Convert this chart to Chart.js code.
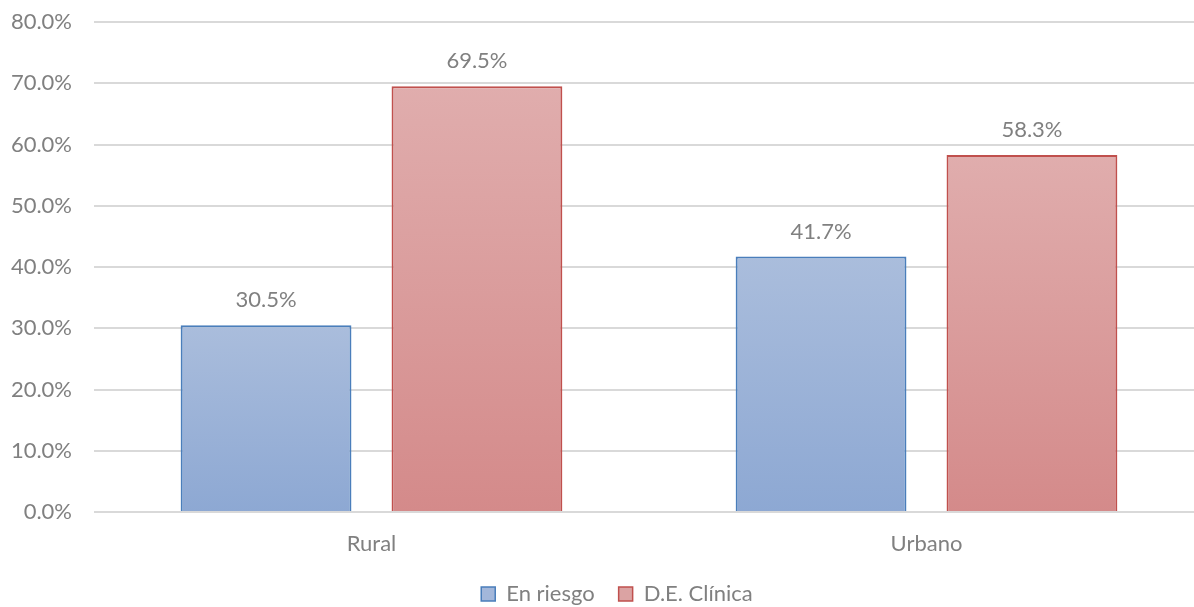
<!DOCTYPE html>
<html>
<head>
<meta charset="utf-8">
<script src="https://cdn.jsdelivr.net/npm/chart.js@4/dist/chart.umd.min.js"></script>
<style>
html,body{margin:0;padding:0;overflow:hidden;background:#fff;width:1194px;height:607px;}
canvas{display:block;}
</style>
</head>
<body>
<canvas id="c" width="1206" height="615"></canvas>
<script>
const categories = ["Rural", "Urbano"];
const seriesNames = ["En riesgo", "D.E. Clínica"];
const enRiesgo = [30.5, 41.7];
const deClinica = [69.5, 58.3];
const yTicks = [0, 10, 20, 30, 40, 50, 60, 70, 80];

const FONT = "Lato, 'Open Sans', sans-serif";
const TEXT = "#808080";

function grad(top, bottom) {
  return function(ctx) {
    const chart = ctx.chart;
    if (!chart.chartArea || ctx.raw === undefined) return bottom;
    const y = chart.scales.y;
    const y0 = y.getPixelForValue(0);
    const y1 = y.getPixelForValue(ctx.raw);
    const g = chart.ctx.createLinearGradient(0, y1, 0, y0);
    g.addColorStop(0, top);
    g.addColorStop(1, bottom);
    return g;
  };
}

const labelPlugin = {
  id: 'valueLabels',
  afterLayout(chart) {
    if (chart.legend) { chart.legend.left += 15; chart.legend.right += 15; }
  },
  afterDatasetsDraw(chart) {
    const ctx = chart.ctx;
    ctx.save();
    ctx.font = "22px " + FONT;
    ctx.fillStyle = TEXT;
    ctx.textAlign = "center";
    ctx.textBaseline = "alphabetic";
    chart.data.datasets.forEach((ds, i) => {
      chart.getDatasetMeta(i).data.forEach((bar, j) => {
        ctx.fillText(ds.data[j].toFixed(1) + "%", bar.x, bar.y - 18);
      });
    });
    ctx.restore();
  }
};

new Chart(document.getElementById("c"), {
  type: "bar",
  data: {
    labels: categories,
    datasets: [
      {
        label: seriesNames[0],
        data: enRiesgo,
        backgroundColor: grad("#aabddc", "#8da8d3"),
        borderColor: "#4a7ebb",
        borderWidth: 2,
        borderSkipped: "bottom",
        categoryPercentage: 0.76,
        barPercentage: 0.81
      },
      {
        label: seriesNames[1],
        data: deClinica,
        backgroundColor: grad("#e0adad", "#d48a8a"),
        borderColor: "#c0504d",
        borderWidth: 2,
        borderSkipped: "bottom",
        categoryPercentage: 0.76,
        barPercentage: 0.81
      }
    ]
  },
  options: {
    responsive: false,
    animation: false,
    devicePixelRatio: 1,
    layout: { padding: { left: 0, right: 2, top: 22, bottom: 0 } },
    plugins: {
      tooltip: { enabled: false },
      legend: {
        position: "bottom",
        labels: {
          font: { family: FONT, size: 22 },
          color: TEXT,
          boxWidth: 14,
          boxHeight: 14,
          padding: 24,
          generateLabels(chart) {
            const fills = ["#a3b7da", "#dba3a3"];
            return chart.data.datasets.map((ds, i) => ({
              text: ds.label,
              fillStyle: fills[i],
              strokeStyle: ds.borderColor,
              lineWidth: 1.5,
              fontColor: TEXT,
              datasetIndex: i,
              hidden: false
            }));
          }
        }
      }
    },
    scales: {
      x: {
        grid: { display: false },
        border: { display: false },
        ticks: { font: { family: FONT, size: 22 }, color: TEXT, padding: 11 },
        afterFit(s) { s.height = 47; s.paddingLeft = 0; s.paddingRight = 0; }
      },
      y: {
        min: 0,
        max: 80,
        afterBuildTicks(s) { s.ticks = yTicks.map(v => ({ value: v })); },
        grid: { color: "#d9d9d9", lineWidth: 2, drawTicks: false },
        border: { display: false },
        ticks: {
          font: { family: FONT, size: 22 },
          color: TEXT,
          padding: 22,
          callback: v => v.toFixed(1) + "%"
        },
        afterFit(s) { s.width = 94; s.paddingTop = 0; s.paddingBottom = 0; }
      }
    }
  },
  plugins: [labelPlugin]
});
</script>
</body>
</html>
